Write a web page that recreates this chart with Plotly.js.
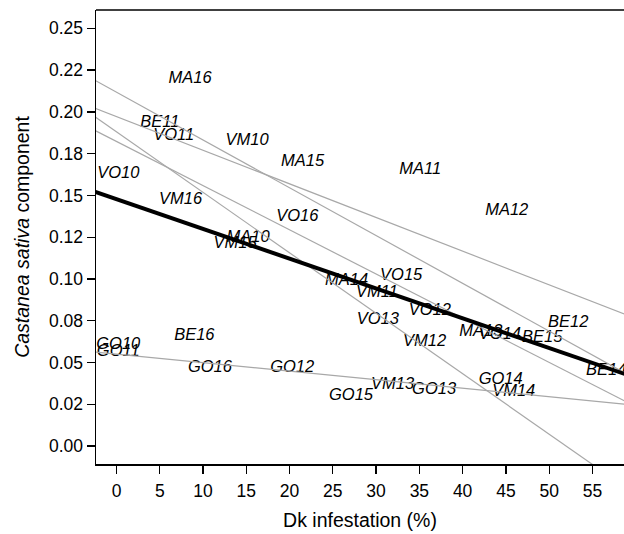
<!DOCTYPE html>
<html>
<head>
<meta charset="utf-8">
<script src="https://cdn.plot.ly/plotly-3.0.1.min.js"></script>
<style>html,body{margin:0;padding:0;background:#fff;}#chart{width:624px;height:534px;}</style>
</head>
<body>
<div id="chart"></div>
<script>
// Point labels (site + year) and their positions
const pointLabels = ['MA16','BE11','VO11','VM10','VO10','MA15','MA11','MA12','VM16','VO16','MA10','VM15','MA14','VO15','VM11','VO12','VO13','MA13','VO14','BE15','BE12','VM12','BE16','GO10','GO11','GO16','GO12','BE14','GO15','VM13','GO13','GO14','VM14'];
const dkInfestation = [8.5,5.0,6.6,15.1,0.2,21.5,35.1,45.1,7.4,20.9,15.2,13.7,26.6,32.9,30.1,36.2,30.2,42.1,44.3,49.2,52.2,35.6,9.0,0.2,0.2,10.8,20.3,56.6,27.1,31.9,36.7,44.4,45.9];
const castaneaComp = [0.2195,0.1936,0.1856,0.1825,0.1630,0.1698,0.1650,0.1405,0.1472,0.1372,0.1246,0.1208,0.0986,0.1016,0.0914,0.0806,0.0756,0.0685,0.0667,0.0646,0.0736,0.0624,0.0661,0.0603,0.0566,0.0465,0.0465,0.0447,0.0302,0.0365,0.0338,0.0398,0.0324];

// Regression lines per site (intercept at 0 %, slope per %)
const siteLines = ['MA','VO','VM','BE','GO'];
const siteIntercepts = [0.1972,0.1823,0.1880,0.2118,0.0550];
const siteSlopes = [-0.002014,-0.002645,-0.003619,-0.002861,-0.000510];
const overallIntercept = 0.1478;
const overallSlope = -0.001783;

// Axis ticks
const yTickVals = [0,0.025,0.05,0.075,0.1,0.125,0.15,0.175,0.2,0.225,0.25];
const yTickText = ['0.00','0.02','0.05','0.08','0.10','0.12','0.15','0.18','0.20','0.22','0.25'];
const xTickVals = [0,5,10,15,20,25,30,35,40,45,50,55];

const xRange = [-2.37, 58.65];
const yRange = [-0.0108, 0.261];

const FONT = 'Liberation Sans, Arial, Helvetica, sans-serif';
const traces = [];

traces.push({
  type:'scatter', mode:'text', x:dkInfestation, y:castaneaComp, text:pointLabels,
  textposition:'middle center',
  textfont:{family:FONT, size:16.5, color:'#000', style:'italic'},
  hoverinfo:'text', showlegend:false, cliponaxis:true
});

function lineXY(a,b){
  const xs=[xRange[0]-5, xRange[1]+5];
  return {x:xs, y:xs.map(v=>a+b*v)};
}
siteLines.forEach((s,i)=>{
  const p=lineXY(siteIntercepts[i],siteSlopes[i]);
  traces.push({type:'scatter', mode:'lines', x:p.x, y:p.y, name:s,
    line:{color:'#a8a8a8', width:1.2}, showlegend:false, hoverinfo:'skip'});
});
const po=lineXY(overallIntercept,overallSlope);
traces.push({type:'scatter', mode:'lines', x:po.x, y:po.y, name:'All',
  line:{color:'#000', width:4}, showlegend:false, hoverinfo:'skip'});

const layout = {
  width:624, height:534,
  margin:{l:96, r:0, t:10, b:70, pad:0},
  paper_bgcolor:'#fff', plot_bgcolor:'#fff',
  font:{family:FONT, color:'#000'},
  xaxis:{
    range:xRange, tickvals:xTickVals, showgrid:false, zeroline:false,
    showline:true, linecolor:'#000', linewidth:1.5,
    ticks:'outside', ticklen:8, tickwidth:1.3, tickcolor:'#000',
    ticklabelstandoff:2,
    tickfont:{family:FONT, size:17.5, color:'#000'},
    title:{text:'Dk infestation (%)', font:{family:FONT, size:19.5, color:'#000'}, standoff:14},
    automargin:false
  },
  yaxis:{
    range:yRange, tickvals:yTickVals, ticktext:yTickText, showgrid:false, zeroline:false,
    showline:true, linecolor:'#000', linewidth:1.5,
    ticks:'outside', ticklen:8, tickwidth:1.3, tickcolor:'#000',
    tickfont:{family:FONT, size:17.5, color:'#000'},
    title:{text:'<i>Castanea sativa</i> component', font:{family:FONT, size:19.5, color:'#000'}, standoff:14},
    automargin:false
  },
  shapes:[{type:'line', xref:'paper', yref:'paper', x0:0, x1:1, y0:1, y1:1, line:{color:'#000', width:1.5}}]
};

Plotly.newPlot('chart', traces, layout, {displayModeBar:false, staticPlot:true});
</script>
</body>
</html>
